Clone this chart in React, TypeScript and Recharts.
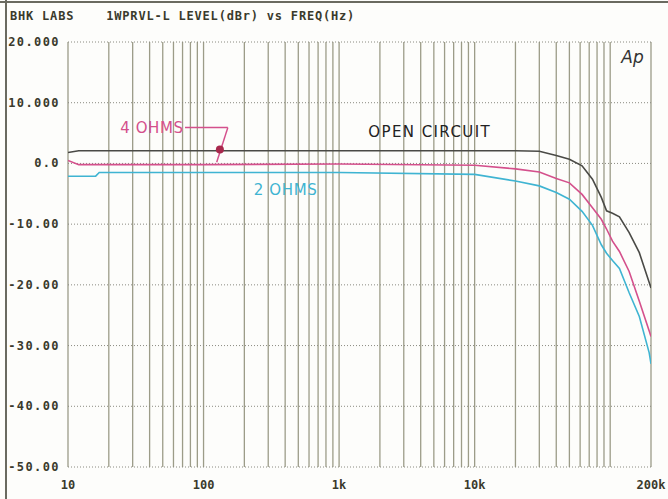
import {
  CartesianGrid,
  Line,
  LineChart,
  ReferenceDot,
  ReferenceLine,
  XAxis,
  YAxis,
} from 'recharts';

// frequency points (Hz)
const freqHz = [
  10, 12, 16, 17, 100, 1000, 10000, 20000, 30000, 40000, 50000, 62000, 74000,
  86000, 94000, 104000, 117000, 138000, 164000, 194000, 200000,
];
const openCircuit = [
  1.8, 2.1, 2.1, 2.1, 2.1, 2.1, 2.1, 2.1, 2.0, 1.3, 0.7, -0.4, -2.6, -5.6, -7.8,
  -8.2, -8.8, -11.4, -14.7, -19.6, -20.5,
];
const fourOhms = [
  0.5, -0.2, -0.2, -0.2, -0.2, -0.1, -0.3, -0.9, -1.4, -2.5, -3.2, -5.1, -7.3,
  -9.2, -10.8, -12.8, -14.5, -17.8, -22.7, -27.6, -28.5,
];
const twoOhms = [
  -2.1, -2.1, -2.1, -1.5, -1.5, -1.5, -1.8, -2.9, -3.7, -4.8, -5.9, -7.9,
  -10.2, -13.4, -14.8, -16.0, -17.3, -21.3, -25.2, -31.2, -33.0,
];

const xTickLabels: Record<number, string> = {
  10: '10',
  100: '100',
  1000: '1k',
  10000: '10k',
  200000: '200k',
};
const yTicks = [20, 10, 0, -10, -20, -30, -40, -50];
const yTickLabels = ['20.000', '10.000', '0.0', '-10.00', '-20.00', '-30.00', '-40.00', '-50.00'];

// log grid: 1..9 per decade, then 100k and 200k
const gridFreqs: number[] = [];
[10, 100, 1000, 10000].forEach((d) => {
  for (let m = 1; m <= 9; m++) gridFreqs.push(d * m);
});
gridFreqs.push(100000, 200000);

const data = freqHz.map((f, i) => ({
  f,
  open: openCircuit[i],
  four: fourOhms[i],
  two: twoOhms[i],
}));

const INK = '#3a3a2c';
const MONO = '"DejaVu Sans Mono", monospace';

function XTick({ x, y, payload }: any) {
  const label = xTickLabels[payload.value];
  if (!label) return null;
  return (
    <text
      x={x}
      y={y + 14}
      textAnchor="middle"
      fontFamily={MONO}
      fontWeight="bold"
      fontSize={12}
      fill={INK}
    >
      {label}
    </text>
  );
}

function YTick({ x, y, payload }: any) {
  const idx = yTicks.indexOf(payload.value);
  return (
    <text
      x={x}
      y={y + 4}
      textAnchor="end"
      fontFamily={MONO}
      fontWeight="bold"
      fontSize={12}
      letterSpacing={1.4}
      fill={INK}
    >
      {yTickLabels[idx]}
    </text>
  );
}

const labelFont = '"DejaVu Sans", sans-serif';

export default function App() {
  return (
    <div
      style={{
        position: 'absolute',
        left: 0,
        top: 0,
        width: 668,
        height: 499,
        background: '#fdfdfb',
      }}
    >
      <div style={{ position: 'absolute', left: 0, top: 1, width: 668, height: 2, background: '#6a6a60' }} />
      <div style={{ position: 'absolute', left: 5, top: 0, width: 2, height: 499, background: '#6a6a60' }} />
      <div
        style={{
          position: 'absolute',
          left: 10,
          top: 9,
          fontFamily: MONO,
          fontWeight: 'bold',
          fontSize: 12,
          letterSpacing: 0.8,
          color: INK,
          whiteSpace: 'pre',
        }}
      >
        {'BHK LABS    1WPRVL-L LEVEL(dBr) vs FREQ(Hz)'}
      </div>
      <LineChart
        width={668}
        height={499}
        data={data}
        margin={{ top: 42, right: 17, left: 8, bottom: 8 }}
        style={{ position: 'absolute', left: 0, top: 0 }}
      >
        <CartesianGrid horizontal={false} stroke="#9c9c88" strokeWidth={1.3} />
        <CartesianGrid vertical={false} stroke="#8a8a80" strokeDasharray="1 2" />
        <XAxis
          dataKey="f"
          type="number"
          scale="log"
          domain={[10, 200000]}
          ticks={gridFreqs}
          interval={0}
          tick={<XTick />}
          axisLine={false}
          tickLine={false}
          height={24}
          allowDataOverflow
        />
        <YAxis
          type="number"
          domain={[-50, 20]}
          ticks={yTicks}
          interval={0}
          tick={<YTick />}
          axisLine={false}
          tickLine={false}
          width={60}
          allowDataOverflow
        />
        <Line
          dataKey="two"
          stroke="#3fb4d2"
          strokeWidth={1.6}
          dot={false}
          isAnimationActive={false}
        />
        <Line
          dataKey="four"
          stroke="#d4508c"
          strokeWidth={1.6}
          dot={false}
          isAnimationActive={false}
        />
        <Line
          dataKey="open"
          stroke="#4a4a46"
          strokeWidth={1.6}
          dot={false}
          isAnimationActive={false}
        />
        <ReferenceLine
          segment={[
            { x: 73, y: 5.9 },
            { x: 151, y: 5.9 },
          ]}
          stroke="#d4508c"
          strokeWidth={1.5}
        />
        <ReferenceLine
          segment={[
            { x: 151, y: 5.9 },
            { x: 125, y: 0.2 },
          ]}
          stroke="#d4508c"
          strokeWidth={1.5}
        />
        <ReferenceDot x={132} y={2.3} r={4} fill="#a8284c" stroke="none" />
        <ReferenceDot
          x={41.6}
          y={5.9}
          r={0}
          label={{
            value: '4 OHMS',
            position: 'center',
            fill: '#d4508c',
            fontSize: 15,
            fontFamily: labelFont,
            letterSpacing: 0.6,
          }}
        />
        <ReferenceDot
          x={4660}
          y={5.3}
          r={0}
          label={{
            value: 'OPEN CIRCUIT',
            position: 'center',
            fill: '#222',
            fontSize: 15,
            fontFamily: labelFont,
            letterSpacing: 1.4,
          }}
        />
        <ReferenceDot
          x={403}
          y={-4.4}
          r={0}
          label={{
            value: '2 OHMS',
            position: 'center',
            fill: '#3fb4d2',
            fontSize: 15,
            fontFamily: labelFont,
            letterSpacing: 0.6,
          }}
        />
        <ReferenceDot
          x={146000}
          y={17.5}
          r={0}
          label={{
            value: 'Ap',
            position: 'center',
            fill: '#333',
            fontSize: 17,
            fontStyle: 'italic',
            fontFamily: labelFont,
          }}
        />
      </LineChart>
    </div>
  );
}
